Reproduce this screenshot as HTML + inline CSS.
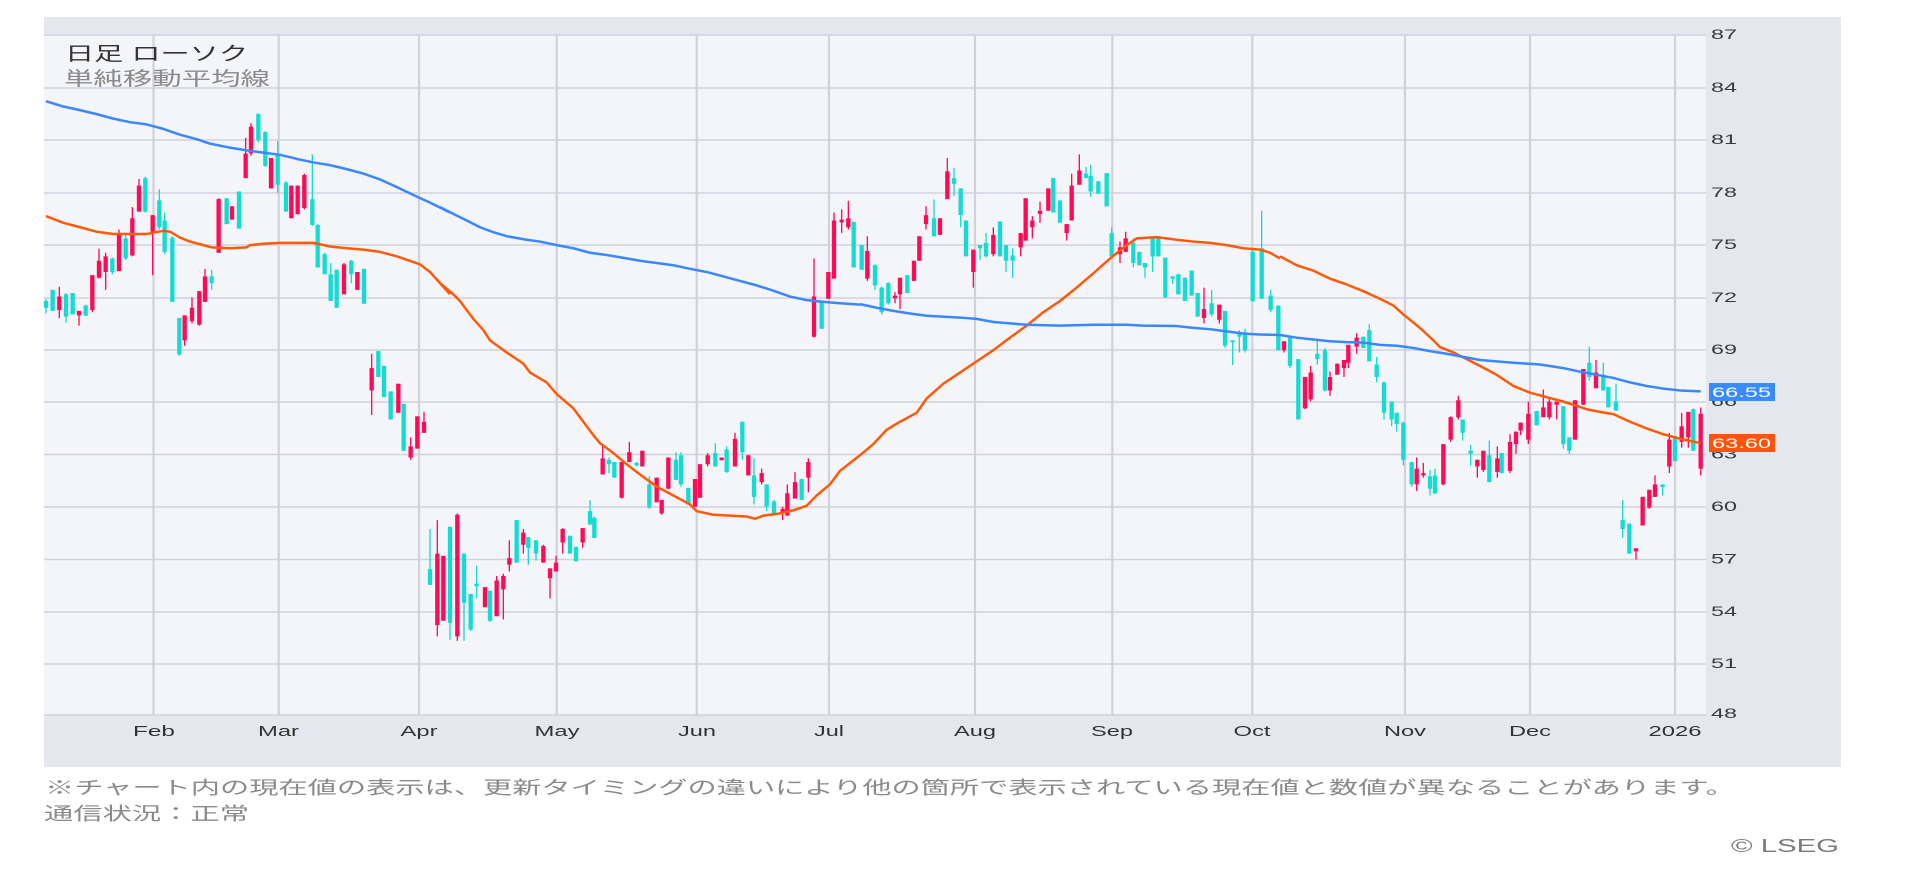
<!DOCTYPE html>
<html>
<head>
<meta charset="utf-8">
<style>
html,body{margin:0;padding:0;background:#ffffff;}
svg{display:block;}
.ax{font-family:"Liberation Sans",Arial,sans-serif;font-size:13.5px;fill:#3a3a3a;}
.mx{font-family:"Liberation Sans",Arial,sans-serif;font-size:14.5px;fill:#333333;}
.jp{font-family:"Liberation Sans","Noto Sans CJK JP",sans-serif;}
</style>
</head>
<body>
<svg width="1913" height="879" viewBox="0 0 1913 879" xmlns="http://www.w3.org/2000/svg">
<rect x="0" y="0" width="1913" height="879" fill="#ffffff"/>
<!-- panel -->
<rect x="44" y="17" width="1797" height="750" fill="#e4e7ee"/>
<rect x="44" y="35" width="1662" height="680" fill="#f4f5f8"/>

<!-- horizontal grid -->
<g stroke="#d1d1dd" stroke-width="1.5">
<line x1="44" x2="1706" y1="35" y2="35"/>
<line x1="44" x2="1706" y1="88" y2="88"/>
<line x1="44" x2="1706" y1="140" y2="140"/>
<line x1="44" x2="1706" y1="193" y2="193"/>
<line x1="44" x2="1706" y1="245" y2="245"/>
<line x1="44" x2="1706" y1="298" y2="298"/>
<line x1="44" x2="1706" y1="350" y2="350"/>
<line x1="44" x2="1706" y1="402" y2="402"/>
<line x1="44" x2="1706" y1="454.5" y2="454.5"/>
<line x1="44" x2="1706" y1="507" y2="507"/>
<line x1="44" x2="1706" y1="559.5" y2="559.5"/>
<line x1="44" x2="1706" y1="612" y2="612"/>
<line x1="44" x2="1706" y1="664" y2="664"/>
<line x1="44" x2="1706" y1="715" y2="715"/>
</g>
<!-- vertical month grid -->
<g stroke="#d1d1dd" stroke-width="2.2">
<line x1="153.5" x2="153.5" y1="35" y2="715"/>
<line x1="278.7" x2="278.7" y1="35" y2="715"/>
<line x1="419" x2="419" y1="35" y2="715"/>
<line x1="556.7" x2="556.7" y1="35" y2="715"/>
<line x1="696.7" x2="696.7" y1="35" y2="715"/>
<line x1="829" x2="829" y1="35" y2="715"/>
<line x1="975" x2="975" y1="35" y2="715"/>
<line x1="1112.3" x2="1112.3" y1="35" y2="715"/>
<line x1="1252.3" x2="1252.3" y1="35" y2="715"/>
<line x1="1405" x2="1405" y1="35" y2="715"/>
<line x1="1530" x2="1530" y1="35" y2="715"/>
<line x1="1675" x2="1675" y1="35" y2="715"/>
</g>

<!-- candles: segment 1 -->
<g transform="translate(30 19.35) scale(0.333333 0.4471)" fill="none">
<path stroke="#16dbd3" stroke-width="4" d="M48 625V658M68 605V652M108 612V678M128 612V660M167 638V663M247 533V570M287 480V538M346 352V432M388 380V470M404 432V525M427 486V632M448 668V752M545 560V605M590 400V458M627 385V468M685 210V275M706 250V330M743 272V388M768 362V430M847 302V462M863 458V555M884 522V570M902 545V630M920 560V645M964 538V590M1002 558V636M1045 742V800M1062 775V845M1082 832V895M1121 860V965M1200 1140V1265"/>
<path stroke="#16dbd3" stroke-width="13" d="M48 630V645M68 605V652M108 615V665M128 612V660M167 640V663M247 535V565M287 490V535M346 355V430M388 405V465M404 450V520M427 488V632M448 668V750M545 575V590M590 400V458M627 385V468M685 212V270M706 252V328M743 300V370M768 365V430M847 402V460M863 460V555M884 525V570M902 570V630M920 560V645M964 540V570M1002 558V636M1045 742V800M1062 775V845M1082 832V895M1121 860V965M1200 1230V1265"/>
<path stroke="#ff0a55" stroke-width="4" d="M88 598V668M147 652V685M187 572V655M207 513V580M227 522V605M267 470V563M307 420V530M327 357V430M368 438V572M464 662V730M486 622V680M508 608V685M525 558V632M566 400V522M606 418V448M647 265V355M663 232V305M723 310V378M784 372V445M803 372V436M823 345V425M942 545V615M982 565V605M1025 748V885M1105 815V880M1142 935V985M1162 888V960M1182 878V925M1222 1120V1380"/>
<path stroke="#ff0a55" stroke-width="13" d="M88 620V650M147 652V662M187 572V650M207 540V578M227 530V565M267 480V563M307 445V528M327 372V430M368 438V475M464 662V718M486 645V675M508 608V683M525 575V632M566 402V522M606 418V448M647 300V355M663 240V300M723 310V378M784 372V445M803 372V436M823 348V422M942 548V615M982 565V605M1025 780V830M1105 815V880M1142 955V980M1162 888V960M1182 900V925M1222 1195V1355"/>
<polyline vector-effect="non-scaling-stroke" stroke="#ff5a0a" stroke-width="2.5" stroke-linejoin="round" points="48,440 100,455 150,465 200,475 250,480 300,480 350,480 400,473 420,475 450,488 480,497 520,505 545,510 600,512 650,510 660,505 700,502 750,500 800,500 850,500 900,508 950,512 1000,515 1050,520 1100,530 1170,548 1200,565 1230,590 1260,615"/>
<polyline vector-effect="non-scaling-stroke" stroke="#3a87ff" stroke-width="2.5" stroke-linejoin="round" points="48,183 100,195 150,203 200,212 250,222 300,230 350,235 400,245 450,258 500,268 540,278 600,287 650,293 700,298 750,303 800,312 850,320 900,326 950,335 1000,345 1050,358 1100,375 1150,393 1200,410 1260,432"/>
</g>

<!-- candles: segment 2 -->
<g transform="translate(440 19.35) scale(0.333333 0.4471)" fill="none">
<path stroke="#16dbd3" stroke-width="4" d="M30 1135V1388M72 1195V1390M92 1285V1368M110 1222V1295M150 1278V1348M230 1120V1215M265 1158V1220M288 1165V1210M390 1155V1195M408 1180V1212M450 1075V1130M463 1112V1160M507 980V1015M523 990V1025M590 990V1000M628 1022V1095M708 968V1030M723 968V1045M745 1048V1085M826 948V1000M860 955V1015M907 900V985M942 982V1085M980 1040V1100M1002 1075V1108M1085 1028V1075M1145 630V692M1241 453V555"/>
<path stroke="#16dbd3" stroke-width="13" d="M30 1135V1350M72 1195V1305M92 1285V1365M110 1262V1268M150 1278V1345M230 1120V1215M265 1158V1182M288 1165V1195M390 1155V1195M408 1180V1212M450 1100V1130M463 1115V1160M507 985V995M523 990V1025M590 992V998M628 1040V1092M708 985V1030M723 975V1040M745 1048V1085M826 970V1000M860 962V1012M907 900V968M942 1020V1068M980 1040V1090M1002 1078V1105M1085 1028V1075M1145 630V692M1241 453V555"/>
<path stroke="#ff0a55" stroke-width="4" d="M10 1200V1345M52 1105V1390M135 1270V1315M170 1245V1335M190 1240V1342M208 1165V1235M250 1140V1195M310 1175V1215M330 1228V1295M348 1200V1235M368 1138V1195M428 1138V1182M488 950V1018M545 990V1072M568 945V990M607 965V1000M650 1025V1080M665 1075V1108M685 980V1050M765 1028V1090M780 995V1070M803 970V1000M845 980V986M885 925V1000M925 975V1020M965 1005V1040M1028 1090V1120M1042 1040V1110M1065 1012V1072M1105 982V1058M1122 535V712M1165 565V625M1182 432V580M1205 425V478M1225 406V470"/>
<path stroke="#ff0a55" stroke-width="13" d="M10 1200V1345M52 1108V1380M135 1270V1315M170 1255V1335M190 1245V1275M208 1205V1220M250 1148V1175M310 1178V1215M330 1228V1250M348 1215V1235M368 1140V1170M428 1138V1170M488 982V1018M545 990V1070M568 968V990M607 965V1000M650 1025V1080M665 1075V1105M685 980V1050M765 1028V1090M780 995V1070M803 975V995M845 980V986M885 938V1000M925 975V1020M965 1015V1035M1028 1095V1105M1042 1060V1110M1065 1035V1072M1105 990V1025M1122 620V710M1165 565V625M1182 450V580M1205 448V454M1225 445V465"/>
<polyline vector-effect="non-scaling-stroke" stroke="#ff5a0a" stroke-width="2.5" stroke-linejoin="round" points="0,590 40,615 60,630 100,670 130,695 150,718 200,745 250,770 270,790 320,812 350,838 400,870 430,900 460,930 480,948 520,970 560,995 600,1018 650,1045 700,1065 750,1085 770,1100 820,1108 870,1110 920,1112 945,1117 970,1110 1020,1105 1060,1098 1100,1088 1130,1065 1170,1040 1200,1010 1260,975"/>
<polyline vector-effect="non-scaling-stroke" stroke="#3a87ff" stroke-width="2.5" stroke-linejoin="round" points="0,420 40,435 80,450 120,465 160,476 200,485 260,493 300,497 350,505 400,512 450,522 500,527 540,532 600,540 650,545 700,550 750,558 800,565 850,575 900,585 950,595 1000,607 1050,620 1100,628 1150,632 1200,635 1260,638"/>
</g>

<!-- candles: segment 3 -->
<g transform="translate(860 19.35) scale(0.333333 0.4471)" fill="none">
<path stroke="#16dbd3" stroke-width="4" d="M5 505V560M45 548V605M65 598V660M85 588V638M142 572V612M222 403V485M282 332V395M302 378V465M318 450V530M360 505V538M378 478V532M420 452V530M438 505V565M458 512V578M580 355V432M600 405V455M678 330V355M692 325V397M715 362V390M740 344V418M755 465V530M820 490V555M838 520V550M855 545V578M878 490V565M895 490V530M916 533V622M938 575V592M955 570V615M975 578V630M995 562V618M1013 612V665M1055 605V665M1095 652V735M1118 718V773M1138 695V745M1155 692V745M1178 515V632M1205 428V625M1232 605V655M1255 640V740"/>
<path stroke="#16dbd3" stroke-width="13" d="M5 505V560M45 550V595M65 600V655M85 590V635M142 572V612M222 445V485M282 355V368M302 378V438M318 450V530M360 505V512M378 500V530M420 452V530M438 505V540M458 528V540M580 355V432M600 405V455M678 345V355M692 350V385M715 362V390M740 344V418M755 478V530M820 500V545M838 520V550M855 545V555M878 490V530M895 490V530M916 533V622M938 575V580M955 570V615M975 578V630M995 562V618M1013 612V665M1055 635V660M1095 652V730M1118 718V722M1138 705V710M1155 700V740M1178 520V630M1205 512V625M1232 618V650M1255 640V740"/>
<path stroke="#ff0a55" stroke-width="4" d="M22 485V585M105 610V635M120 578V648M162 540V585M178 485V540M198 418V470M240 445V482M262 310V402M340 515V600M400 465V530M482 478V530M497 400V495M517 440V490M540 408V455M565 378V428M620 458V495M635 345V450M658 302V370M780 497V545M797 475V520M1032 600V680M1078 638V680"/>
<path stroke="#ff0a55" stroke-width="13" d="M22 518V580M105 618V624M120 578V615M162 540V585M178 485V540M198 438V458M240 445V482M262 340V402M340 515V565M400 482V525M482 478V510M497 400V495M517 450V465M540 428V435M565 378V428M620 458V478M635 372V450M658 338V370M780 510V525M797 490V520M1032 648V668M1078 638V672"/>
<polyline vector-effect="non-scaling-stroke" stroke="#ff5a0a" stroke-width="2.5" stroke-linejoin="round" points="0,975 40,950 80,918 120,900 170,880 200,848 250,815 300,790 350,765 400,740 450,712 500,685 550,655 600,630 650,600 700,568 750,535 800,505 830,490 890,487 950,493 1000,497 1050,500 1100,505 1150,512 1200,515 1230,522 1260,535"/>
<polyline vector-effect="non-scaling-stroke" stroke="#3a87ff" stroke-width="2.5" stroke-linejoin="round" points="0,637 50,645 100,652 150,658 200,663 300,667 350,670 400,677 450,680 500,683 600,685 700,683 800,683 850,685 950,686 1000,690 1050,693 1100,698 1150,703 1200,705 1260,706"/>
</g>

<!-- candles: segment 4 -->
<g transform="translate(1280 19.35) scale(0.333333 0.4471)" fill="none">
<path stroke="#16dbd3" stroke-width="4" d="M30 712V780M55 760V895M112 720V772M135 735V832M250 710V735M268 682V765M290 755V812M312 810V895M335 855V910M350 880V922M370 900V998M395 990V1045M450 1008V1065M465 1005V1062M548 895V942M572 952V998M628 942V1035M665 970V1015M770 876V908M850 865V960M868 935V972M928 732V808M970 768V830M985 822V868M1008 815V875M1028 1075V1160M1048 1128V1195M1148 1040V1065M1185 932V988M1240 870V965"/>
<path stroke="#16dbd3" stroke-width="13" d="M30 712V775M55 760V895M112 748V760M135 740V830M250 710V735M268 695V765M290 772V800M312 812V880M335 855V895M350 880V905M370 902V985M395 990V1040M450 1022V1050M465 1020V1060M548 895V925M572 965V972M628 975V1035M665 970V1015M770 876V908M850 865V950M868 935V965M928 768V800M970 795V830M985 822V868M1008 855V875M1028 1120V1140M1048 1128V1195M1148 1040V1046M1185 932V988M1240 872V965"/>
<path stroke="#ff0a55" stroke-width="4" d="M12 720V745M75 800V872M92 775V855M150 788V842M172 770V795M192 762V800M205 728V780M230 702V748M410 980V1055M430 992V1025M490 950V1042M512 888V945M535 842V895M592 985V1025M610 965V1012M652 955V1025M690 928V1015M708 922V972M722 902V930M745 855V950M790 828V890M808 845V895M830 855V895M885 852V940M910 782V862M948 762V825M1068 1183V1208M1088 1068V1132M1108 1052V1095M1125 1020V1068M1168 925V1015M1205 880V958M1225 878V958M1262 868V1020"/>
<path stroke="#ff0a55" stroke-width="13" d="M12 720V740M75 800V870M92 790V850M150 800V830M172 770V795M192 762V780M205 728V768M230 712V732M410 1005V1040M430 1015V1020M490 950V1040M512 890V940M535 852V890M592 985V1000M610 965V1008M652 982V1012M690 945V1010M708 922V950M722 902V920M745 882V940M790 868V890M808 855V890M830 855V862M885 852V940M910 782V862M948 790V825M1068 1183V1190M1088 1068V1132M1108 1052V1092M1125 1040V1068M1168 940V1000M1205 910V945M1225 878V935M1262 882V1005"/>
<polyline vector-effect="non-scaling-stroke" stroke="#ff5a0a" stroke-width="2.5" stroke-linejoin="round" points="0,530 50,550 100,562 150,580 200,593 250,608 300,625 340,640 370,660 400,678 430,697 460,718 480,733 520,745 560,760 600,775 650,795 700,820 750,835 800,845 850,855 880,862 920,872 960,878 1000,883 1050,900 1100,915 1150,928 1200,938 1262,948"/>
<polyline vector-effect="non-scaling-stroke" stroke="#3a87ff" stroke-width="2.5" stroke-linejoin="round" points="0,706 50,712 100,716 150,720 200,722 250,723 300,728 350,730 400,735 450,742 500,748 550,755 600,762 700,768 780,772 850,780 900,788 950,795 1000,802 1050,812 1100,820 1150,826 1200,830 1262,832"/>
</g>

<!-- legend -->
<text class="jp" x="65" y="60" font-size="19" fill="#333333" textLength="183" lengthAdjust="spacingAndGlyphs">日足 ローソク</text>
<text class="jp" x="64" y="85" font-size="19" fill="#8a8a8a" textLength="206" lengthAdjust="spacingAndGlyphs">単純移動平均線</text>

<!-- y axis labels -->
<g class="ax">
<text x="1711" y="39" textLength="26" lengthAdjust="spacingAndGlyphs">87</text>
<text x="1711" y="92" textLength="26" lengthAdjust="spacingAndGlyphs">84</text>
<text x="1711" y="144" textLength="26" lengthAdjust="spacingAndGlyphs">81</text>
<text x="1711" y="197" textLength="26" lengthAdjust="spacingAndGlyphs">78</text>
<text x="1711" y="249" textLength="26" lengthAdjust="spacingAndGlyphs">75</text>
<text x="1711" y="302" textLength="26" lengthAdjust="spacingAndGlyphs">72</text>
<text x="1711" y="354" textLength="26" lengthAdjust="spacingAndGlyphs">69</text>
<text x="1711" y="406" textLength="26" lengthAdjust="spacingAndGlyphs">66</text>
<text x="1711" y="458.5" textLength="26" lengthAdjust="spacingAndGlyphs">63</text>
<text x="1711" y="511" textLength="26" lengthAdjust="spacingAndGlyphs">60</text>
<text x="1711" y="563.5" textLength="26" lengthAdjust="spacingAndGlyphs">57</text>
<text x="1711" y="616" textLength="26" lengthAdjust="spacingAndGlyphs">54</text>
<text x="1711" y="668" textLength="26" lengthAdjust="spacingAndGlyphs">51</text>
<text x="1711" y="718" textLength="26" lengthAdjust="spacingAndGlyphs">48</text>
</g>

<!-- last value boxes -->
<rect x="1709" y="383" width="66" height="18" fill="#3a8bff"/>
<text x="1712" y="397" font-family="Liberation Sans, Arial, sans-serif" font-size="14" fill="#ffffff" textLength="59" lengthAdjust="spacingAndGlyphs">66.55</text>
<rect x="1709" y="434" width="66" height="18" fill="#fa550a"/>
<text x="1712" y="448" font-family="Liberation Sans, Arial, sans-serif" font-size="14" fill="#ffffff" textLength="59" lengthAdjust="spacingAndGlyphs">63.60</text>

<!-- x axis labels -->
<g class="mx">
<text x="133" y="736" textLength="42" lengthAdjust="spacingAndGlyphs">Feb</text>
<text x="258" y="736" textLength="41" lengthAdjust="spacingAndGlyphs">Mar</text>
<text x="400.5" y="736" textLength="37" lengthAdjust="spacingAndGlyphs">Apr</text>
<text x="534.5" y="736" textLength="45" lengthAdjust="spacingAndGlyphs">May</text>
<text x="678" y="736" textLength="38" lengthAdjust="spacingAndGlyphs">Jun</text>
<text x="814" y="736" textLength="30" lengthAdjust="spacingAndGlyphs">Jul</text>
<text x="954" y="736" textLength="42" lengthAdjust="spacingAndGlyphs">Aug</text>
<text x="1091" y="736" textLength="42" lengthAdjust="spacingAndGlyphs">Sep</text>
<text x="1233.5" y="736" textLength="37" lengthAdjust="spacingAndGlyphs">Oct</text>
<text x="1384" y="736" textLength="42" lengthAdjust="spacingAndGlyphs">Nov</text>
<text x="1509" y="736" textLength="42" lengthAdjust="spacingAndGlyphs">Dec</text>
<text x="1648.5" y="736" textLength="53" lengthAdjust="spacingAndGlyphs">2026</text>
</g>

<!-- footnotes -->
<text class="jp" x="45" y="794" font-size="18" fill="#8a8a8a" textLength="1690" lengthAdjust="spacingAndGlyphs">※チャート内の現在値の表示は、更新タイミングの違いにより他の箇所で表示されている現在値と数値が異なることがあります。</text>
<text class="jp" x="44" y="820" font-size="18" fill="#8a8a8a" textLength="205" lengthAdjust="spacingAndGlyphs">通信状況：正常</text>
<text x="1731" y="852" font-family="Liberation Sans, Arial, sans-serif" font-size="18" fill="#7a7a7a" textLength="108" lengthAdjust="spacingAndGlyphs">© LSEG</text>
</svg>
</body>
</html>
